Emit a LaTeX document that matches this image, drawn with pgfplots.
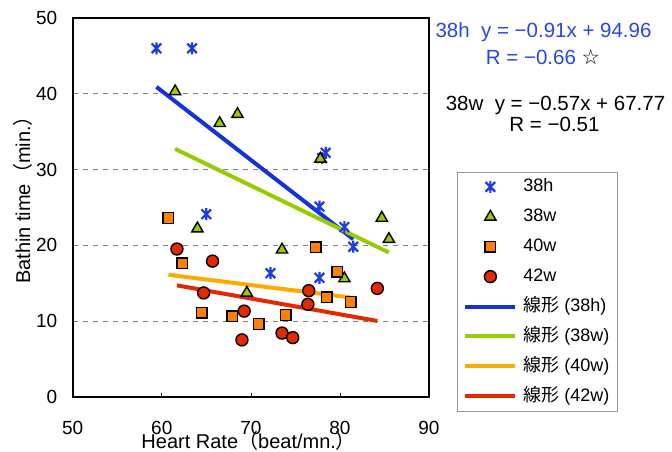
\documentclass[border=0pt]{standalone}
\usepackage{pgfplots}
\pgfplotsset{compat=1.18}
\usepackage{fontspec}
\setmainfont{Liberation Sans}
\newfontfamily\jp{Noto Sans CJK JP}
\newfontfamily\sym{DejaVu Sans}

\definecolor{hblue}{RGB}{30,60,230}
\definecolor{tblue}{RGB}{20,50,215}
\definecolor{eqblue}{RGB}{40,70,230}
\definecolor{wgreen}{RGB}{153,204,0}
\definecolor{sorange}{RGB}{255,128,0}
\definecolor{torange}{RGB}{255,170,0}
\definecolor{cred}{RGB}{230,40,0}

% star marker: vertical bar crossed by an X
\pgfdeclareplotmark{xstar}{%
  \pgfpathmoveto{\pgfqpoint{0pt}{-\pgfplotmarksize}}%
  \pgfpathlineto{\pgfqpoint{0pt}{\pgfplotmarksize}}%
  \pgfpathmoveto{\pgfqpoint{-0.8\pgfplotmarksize}{-0.8\pgfplotmarksize}}%
  \pgfpathlineto{\pgfqpoint{0.8\pgfplotmarksize}{0.8\pgfplotmarksize}}%
  \pgfpathmoveto{\pgfqpoint{-0.8\pgfplotmarksize}{0.8\pgfplotmarksize}}%
  \pgfpathlineto{\pgfqpoint{0.8\pgfplotmarksize}{-0.8\pgfplotmarksize}}%
  \pgfusepathqstroke}

\begin{document}
\begin{tikzpicture}
\begin{axis}[
  width=356.3pt, height=378.7pt, scale only axis,
  xmin=50, xmax=90, ymin=0, ymax=50,
  xtick={50,60,70,80,90}, ytick={0,10,20,30,40,50},
  axis line style={line width=1.8pt},
  xtick pos=bottom, ytick pos=left, tick align=inside,
  major tick length=4pt,
  xtick style={black, line width=0.6pt},
  ytick style={draw=none},
  ymajorgrids,
  grid style={gray, dash pattern=on 5pt off 5pt, line width=0.8pt},
  tick label style={font=\fontsize{19}{19}\selectfont},
  /pgf/number format/assume math mode=true,
  xticklabel style={yshift=-21pt},
  yticklabel style={xshift=-12pt},
  xlabel={Heart Rate{\jp （}beat/mn.{\jp ）}},
  xlabel style={font=\fontsize{20}{20}\selectfont, at={(axis description cs:0.494,-0.1363)}, anchor=base},
  ylabel={Bathin time{\jp （}min.{\jp ）}},
  ylabel style={font=\fontsize{20}{20}\selectfont, at={(axis description cs:-0.1198,0.5326)}, anchor=base},
  legend image code/.code={\draw[mark repeat=2,mark phase=2,#1] plot coordinates {(0pt,0pt) (25pt,0pt) (50pt,0pt)};},
  legend style={at={(1.0777,0.5941)}, anchor=north west, draw=gray!80, line width=0.8pt,
    font=\fontsize{18}{18}\selectfont, inner xsep=6.3pt, inner ysep=3.8pt,
    row sep=7.9pt, column sep=4pt,
    nodes={inner sep=2pt, text height=14pt, text depth=4pt}},
  legend cell align=left,
]
% measured points
\addplot[only marks, mark=xstar, mark size=6pt, hblue, line width=2.2pt] coordinates {
 (59.4,46.0) (63.4,46.0) (65.0,24.1) (72.2,16.3) (77.7,25.1)
 (78.0,31.5) (78.4,32.2) (77.7,15.7) (80.5,22.4) (81.5,19.8)};
\addlegendentry{38h}
\addplot[only marks, mark=triangle*, mark size=6.5pt, draw=black, fill=wgreen, line width=1.4pt] coordinates {
 (61.5,40.3) (66.5,36.1) (68.5,37.3) (64.0,22.2) (69.55,13.7)
 (73.5,19.4) (77.8,31.4) (80.5,15.6) (84.7,23.6) (85.5,20.8)};
\addlegendentry{38w}
\addplot[only marks, mark=square*, mark size=5.3pt, draw=black, fill=sorange, line width=1.4pt] coordinates {
 (60.75,23.6) (62.3,17.6) (64.5,11.1) (67.9,10.6) (70.9,9.6)
 (73.9,10.8) (77.3,19.7) (78.5,13.1) (79.7,16.5) (81.2,12.5)};
\addlegendentry{40w}
\addplot[only marks, mark=*, mark size=6pt, draw=black, fill=cred, line width=1.4pt] coordinates {
 (61.7,19.5) (65.7,17.9) (64.7,13.7) (69.0,7.5) (69.25,11.3)
 (73.5,8.4) (74.7,7.8) (76.5,14.0) (76.4,12.2) (84.2,14.3)};
\addlegendentry{42w}
% linear trend lines
\addplot[tblue, line width=4pt] coordinates {(59.4,40.906) (81.5,20.795)};
\addlegendentry{{\jp 線形} (38h)}
\addplot[wgreen, line width=4pt] coordinates {(61.5,32.715) (85.5,19.035)};
\addlegendentry{{\jp 線形} (38w)}
\addplot[torange, line width=4pt] coordinates {(60.75,16.1) (81.2,13.1)};
\addlegendentry{{\jp 線形} (40w)}
\addplot[cred, line width=4pt] coordinates {(61.7,14.7) (84.2,10.0)};
\addlegendentry{{\jp 線形} (42w)}
\end{axis}
% regression annotations
\begin{scope}[every node/.style={inner sep=0pt, font=\fontsize{20.5}{20.5}\selectfont}]
\node[anchor=base, text=eqblue] at (470.8pt,359.4pt) {38h\ \ y = −0.91x + 94.96};
\node[anchor=base, text=eqblue] at (470.3pt,332.4pt) {R = −0.66 {\sym\color{black}☆}};
\node[anchor=base] at (482.8pt,285.7pt) {38w\ \ y = −0.57x + 67.77};
\node[anchor=base] at (481.8pt,265.2pt) {R = −0.51};
\end{scope}
\pgfresetboundingbox
\path (-72.7pt,-55.3pt) rectangle (599.3pt,396.7pt);
\end{tikzpicture}
\end{document}
